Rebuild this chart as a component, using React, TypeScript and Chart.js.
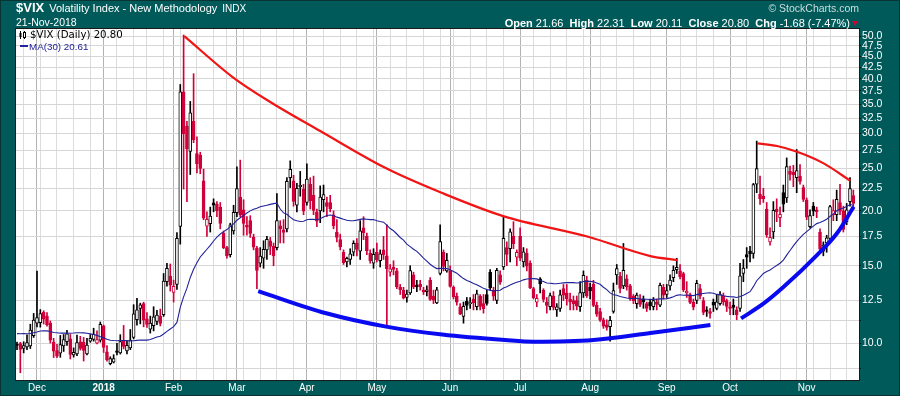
import React, { useEffect, useRef } from 'react';
import { Chart, registerables } from 'chart.js';

Chart.register(...registerables);

// ---------- data ----------
const DATES: string[] = [
  '2017-11-22','2017-11-24','2017-11-27','2017-11-28','2017-11-29','2017-11-30',
  '2017-12-01','2017-12-04','2017-12-05','2017-12-06','2017-12-07','2017-12-08','2017-12-11','2017-12-12','2017-12-13','2017-12-14',
  '2017-12-15','2017-12-18','2017-12-19','2017-12-20','2017-12-21','2017-12-22','2017-12-26','2017-12-27','2017-12-28','2017-12-29',
  '2018-01-02','2018-01-03','2018-01-04','2018-01-05','2018-01-08','2018-01-09','2018-01-10','2018-01-11','2018-01-12','2018-01-16',
  '2018-01-17','2018-01-18','2018-01-19','2018-01-22','2018-01-23','2018-01-24','2018-01-25','2018-01-26','2018-01-29','2018-01-30','2018-01-31',
  '2018-02-01','2018-02-02','2018-02-05','2018-02-06','2018-02-07','2018-02-08','2018-02-09','2018-02-12','2018-02-13','2018-02-14',
  '2018-02-15','2018-02-16','2018-02-20','2018-02-21','2018-02-22','2018-02-23','2018-02-26','2018-02-27','2018-02-28',
  '2018-03-01','2018-03-02','2018-03-05','2018-03-06','2018-03-07','2018-03-08','2018-03-09','2018-03-12','2018-03-13','2018-03-14',
  '2018-03-15','2018-03-16','2018-03-19','2018-03-20','2018-03-21','2018-03-22','2018-03-23','2018-03-26','2018-03-27','2018-03-28','2018-03-29',
  '2018-04-02','2018-04-03','2018-04-04','2018-04-05','2018-04-06','2018-04-09','2018-04-10','2018-04-11','2018-04-12','2018-04-13',
  '2018-04-16','2018-04-17','2018-04-18','2018-04-19','2018-04-20','2018-04-23','2018-04-24','2018-04-25','2018-04-26','2018-04-27','2018-04-30',
  '2018-05-01','2018-05-02','2018-05-03','2018-05-04','2018-05-07','2018-05-08','2018-05-09','2018-05-10','2018-05-11','2018-05-14',
  '2018-05-15','2018-05-16','2018-05-17','2018-05-18','2018-05-21','2018-05-22','2018-05-23','2018-05-24','2018-05-25','2018-05-29','2018-05-30','2018-05-31',
  '2018-06-01','2018-06-04','2018-06-05','2018-06-06','2018-06-07','2018-06-08','2018-06-11','2018-06-12','2018-06-13','2018-06-14',
  '2018-06-15','2018-06-18','2018-06-19','2018-06-20','2018-06-21','2018-06-22','2018-06-25','2018-06-26','2018-06-27','2018-06-28','2018-06-29',
  '2018-07-02','2018-07-03','2018-07-05','2018-07-06','2018-07-09','2018-07-10','2018-07-11','2018-07-12','2018-07-13','2018-07-16',
  '2018-07-17','2018-07-18','2018-07-19','2018-07-20','2018-07-23','2018-07-24','2018-07-25','2018-07-26','2018-07-27','2018-07-30','2018-07-31',
  '2018-08-01','2018-08-02','2018-08-03','2018-08-06','2018-08-07','2018-08-08','2018-08-09','2018-08-10','2018-08-13','2018-08-14',
  '2018-08-15','2018-08-16','2018-08-17','2018-08-20','2018-08-21','2018-08-22','2018-08-23','2018-08-24','2018-08-27','2018-08-28',
  '2018-08-29','2018-08-30','2018-08-31',
  '2018-09-04','2018-09-05','2018-09-06','2018-09-07','2018-09-10','2018-09-11','2018-09-12','2018-09-13','2018-09-14','2018-09-17',
  '2018-09-18','2018-09-19','2018-09-20','2018-09-21','2018-09-24','2018-09-25','2018-09-26','2018-09-27','2018-09-28',
  '2018-10-01','2018-10-02','2018-10-03','2018-10-04','2018-10-05','2018-10-08','2018-10-09','2018-10-10','2018-10-11','2018-10-12',
  '2018-10-15','2018-10-16','2018-10-17','2018-10-18','2018-10-19','2018-10-22','2018-10-23','2018-10-24','2018-10-25','2018-10-26',
  '2018-10-29','2018-10-30','2018-10-31',
  '2018-11-01','2018-11-02','2018-11-05','2018-11-06','2018-11-07','2018-11-08','2018-11-09','2018-11-12','2018-11-13','2018-11-14',
  '2018-11-15','2018-11-16','2018-11-19','2018-11-20','2018-11-21',
];

const OPEN: number[] = [
  9.94, 9.98, 9.72, 9.80, 9.85, 10.40,
  11.10, 11.13, 11.75, 11.52, 11.11, 10.05, 9.61, 9.48, 9.85, 10.08, 10.23, 9.40, 9.45, 10.07, 10.05, 9.45, 10.10, 10.20, 10.00, 10.15,
  10.95, 9.55, 8.98, 9.05, 9.60, 9.50, 10.15, 9.60, 9.75, 10.30, 11.30, 12.00, 12.30, 11.35, 10.75, 10.95, 11.20, 11.50, 11.60, 13.80, 14.20,
  13.05, 13.60, 18.44, 37.32, 31.20, 27.30, 32.00, 27.00, 26.80, 23.40, 18.45, 18.70, 20.85, 20.70, 20.40, 17.80, 16.50, 15.90, 18.00,
  19.80, 21.50, 20.10, 18.55, 19.00, 17.40, 16.45, 15.20, 15.60, 16.30, 17.10, 16.60, 16.50, 18.50, 18.10, 18.20, 23.80, 23.40, 20.60, 22.70, 22.40,
  20.90, 23.00, 21.70, 19.90, 20.00, 21.20, 20.90, 20.90, 19.60, 17.90, 17.20, 16.10, 15.30, 15.50, 16.10, 16.90, 16.20, 18.30, 17.50, 16.00, 15.20,
  16.10, 15.40, 16.30, 15.80, 14.50, 14.90, 14.60, 13.40, 13.20, 12.70, 13.00, 14.30, 13.55, 13.60, 13.20, 13.10, 13.90, 12.80, 12.35, 14.40, 16.10, 14.60,
  14.60, 13.40, 12.80, 12.10, 11.50, 12.45, 12.30, 12.60, 12.10, 12.80, 12.30, 12.90, 14.50, 13.20, 12.50, 14.30, 14.90, 16.50, 16.40, 17.50, 15.70,
  17.50, 15.30, 16.00, 15.20, 13.30, 12.40, 14.00, 13.20, 12.40, 12.10, 12.80, 11.90, 12.00, 13.30, 13.00, 12.60, 12.50, 12.50, 12.10, 13.00, 13.90,
  13.40, 13.60, 12.20, 11.80, 11.30, 11.00, 10.90, 11.80, 14.30, 14.20, 13.50, 14.00, 13.50, 12.80, 12.30, 12.60, 12.60, 12.30, 12.40, 12.10, 12.40, 12.20, 13.40,
  12.90, 13.50, 14.10, 14.70, 14.60, 14.40, 13.00, 12.90, 12.40, 12.50, 13.30, 12.50, 11.90, 11.80, 12.40, 12.00, 12.30, 12.80, 12.50,
  12.10, 12.20, 11.90, 12.00, 14.40, 15.90, 16.20, 16.00, 23.00, 21.80, 21.60, 20.20, 17.00, 17.90, 20.20, 19.30, 22.00, 21.40, 24.60, 24.50, 23.80, 24.00, 22.60,
  21.20, 18.40, 20.50, 20.10, 17.90, 16.20, 16.90, 17.30, 19.60, 19.60, 20.90, 20.00, 18.90, 21.00, 21.66,
];

const HIGH: number[] = [
  10.05, 10.04, 10.07, 10.44, 11.04, 11.68,
  14.58, 11.92, 11.85, 11.73, 11.23, 10.25, 9.94, 10.41, 10.46, 10.69, 10.46, 9.75, 10.43, 10.36, 10.30, 10.25, 10.46, 10.81, 10.66, 11.17,
  10.99, 9.87, 9.31, 9.41, 9.99, 10.45, 10.97, 10.10, 10.74, 12.23, 12.65, 12.33, 12.39, 11.74, 11.52, 12.10, 11.88, 11.95, 14.40, 15.20, 15.14,
  13.91, 17.84, 38.80, 50.30, 32.00, 35.50, 41.06, 29.50, 27.20, 24.90, 19.90, 20.40, 21.30, 21.00, 20.90, 18.00, 16.60, 18.75, 20.60,
  25.20, 26.10, 21.20, 19.40, 19.50, 17.70, 16.60, 16.50, 17.10, 17.50, 17.40, 16.90, 21.90, 19.00, 19.10, 23.80, 26.00, 24.10, 23.10, 24.60, 23.00,
  25.60, 23.80, 24.00, 20.20, 22.80, 22.90, 21.50, 21.70, 20.00, 19.10, 17.70, 16.30, 15.70, 16.40, 17.10, 17.30, 19.00, 19.40, 17.80, 16.30, 16.40,
  16.90, 16.30, 17.50, 18.60, 15.10, 15.40, 14.80, 13.60, 13.40, 13.20, 15.00, 14.50, 13.90, 13.90, 13.40, 13.50, 14.10, 13.20, 13.40, 18.60, 16.30, 16.00,
  15.00, 13.50, 13.00, 12.30, 12.40, 12.70, 12.70, 12.90, 13.20, 12.90, 12.90, 13.20, 14.70, 13.40, 14.80, 14.60, 19.40, 17.00, 18.20, 18.90, 16.30,
  18.30, 16.50, 16.40, 15.40, 13.40, 12.90, 14.10, 13.30, 12.70, 13.00, 13.10, 12.30, 13.20, 13.60, 13.60, 13.00, 12.80, 12.80, 13.80, 14.60, 14.20,
  13.70, 13.90, 12.40, 12.00, 11.40, 11.30, 11.50, 13.70, 15.10, 14.50, 16.86, 14.30, 13.60, 12.90, 13.00, 12.90, 12.80, 12.40, 12.60, 12.70, 12.60, 13.70, 13.60,
  13.60, 14.30, 15.00, 15.60, 15.10, 14.50, 13.80, 13.00, 12.60, 13.90, 13.60, 12.70, 12.10, 12.00, 12.60, 12.90, 13.10, 13.00, 12.60,
  12.40, 12.60, 12.10, 15.20, 15.50, 16.50, 16.60, 23.10, 28.84, 24.00, 22.50, 20.90, 18.30, 21.00, 21.30, 20.40, 22.90, 26.40, 25.30, 25.40, 27.60, 25.50, 22.90,
  21.40, 20.10, 20.90, 20.40, 18.20, 17.00, 17.60, 20.60, 21.20, 22.30, 23.00, 20.50, 20.80, 23.80, 22.31,
];

const LOW: number[] = [
  9.66, 8.56, 9.50, 9.66, 9.72, 10.30,
  10.88, 10.87, 11.05, 10.92, 10.00, 9.27, 9.26, 9.28, 9.57, 9.88, 9.20, 9.29, 9.36, 9.64, 9.10, 9.40, 10.04, 10.10, 9.95, 10.05,
  9.52, 9.10, 8.92, 9.01, 9.40, 9.44, 9.70, 9.45, 9.66, 10.22, 10.98, 11.06, 10.89, 10.86, 10.54, 10.66, 11.01, 10.94, 11.50, 13.47, 13.13,
  12.40, 13.25, 16.80, 22.42, 21.00, 24.20, 28.60, 24.40, 24.30, 19.10, 17.50, 17.90, 19.90, 19.40, 18.20, 16.40, 15.60, 15.70, 17.70,
  19.40, 19.40, 17.60, 17.60, 17.40, 16.30, 13.30, 14.90, 14.80, 15.50, 15.90, 15.00, 16.30, 16.90, 16.90, 17.90, 22.60, 20.50, 19.90, 21.60, 19.60,
  20.60, 20.20, 19.60, 18.40, 18.80, 19.90, 19.40, 19.90, 18.20, 17.00, 16.30, 15.10, 14.90, 15.10, 15.80, 15.80, 15.50, 17.20, 15.90, 15.20, 14.80,
  15.30, 14.90, 15.50, 10.90, 14.20, 14.30, 13.30, 12.90, 12.60, 12.40, 12.90, 13.30, 13.10, 13.20, 12.90, 12.80, 12.50, 12.30, 12.30, 14.30, 14.60, 14.50,
  13.40, 12.60, 12.20, 11.60, 11.10, 11.90, 12.00, 11.90, 11.90, 11.90, 11.70, 12.20, 13.20, 12.50, 12.30, 13.60, 14.70, 15.00, 15.30, 16.40, 15.00,
  15.40, 14.90, 14.60, 13.30, 12.60, 12.10, 13.00, 12.40, 11.70, 11.90, 11.90, 11.50, 11.80, 12.50, 12.20, 11.90, 11.90, 11.90, 11.80, 12.70, 12.70,
  12.60, 12.10, 11.50, 11.20, 10.80, 10.70, 10.10, 11.70, 13.60, 13.00, 13.30, 13.20, 12.50, 12.30, 12.00, 12.10, 12.00, 11.80, 11.90, 11.90, 11.90, 12.10, 12.60,
  12.70, 13.20, 13.80, 14.40, 14.00, 13.10, 12.70, 12.30, 11.90, 12.30, 12.60, 11.60, 11.50, 11.40, 11.80, 11.90, 12.20, 12.20, 11.80,
  11.60, 11.60, 11.30, 11.80, 13.80, 14.80, 15.30, 15.60, 22.00, 20.70, 20.90, 17.40, 16.70, 17.30, 18.90, 18.40, 19.90, 20.90, 23.50, 22.70, 22.00, 23.00, 21.00,
  19.10, 18.30, 19.50, 19.30, 16.20, 15.80, 16.10, 17.00, 19.00, 19.00, 19.60, 17.90, 18.60, 20.50, 20.11,
];

const CLOSE: number[] = [
  9.88, 9.67, 9.87, 10.03, 10.70, 11.28,
  11.43, 11.68, 11.33, 11.02, 10.16, 9.58, 9.34, 9.92, 10.18, 10.49, 9.42, 9.53, 10.03, 9.72, 9.62, 9.90, 10.25, 10.47, 10.18, 11.04,
  9.77, 9.15, 9.22, 9.22, 9.52, 10.08, 9.82, 9.88, 10.16, 11.66, 11.91, 12.22, 11.27, 11.03, 11.10, 11.47, 11.58, 11.08, 13.84, 14.79, 13.54,
  13.47, 17.31, 37.32, 29.98, 27.73, 33.46, 29.06, 25.61, 24.97, 19.26, 19.13, 19.46, 20.60, 20.02, 18.72, 16.49, 15.80, 18.59, 19.85,
  22.47, 19.59, 18.73, 18.36, 17.76, 16.54, 14.64, 15.78, 16.35, 17.23, 16.59, 15.80, 19.02, 18.20, 17.86, 23.34, 24.87, 21.03, 22.50, 22.87, 19.97,
  23.62, 21.10, 20.06, 18.94, 21.49, 21.77, 20.47, 20.24, 18.49, 17.41, 16.56, 15.25, 15.60, 15.96, 16.88, 16.34, 18.02, 17.84, 16.24, 15.41, 15.93,
  15.49, 15.97, 15.90, 14.77, 14.75, 14.71, 13.42, 13.23, 12.65, 12.93, 14.63, 13.42, 13.43, 13.42, 13.08, 13.22, 12.58, 12.53, 13.22, 17.02, 14.94, 15.43,
  13.46, 12.74, 12.40, 11.64, 12.13, 12.18, 12.35, 12.34, 12.94, 12.12, 11.98, 12.31, 13.35, 12.79, 14.64, 13.77, 17.33, 15.92, 17.91, 16.85, 16.09,
  15.60, 16.14, 14.97, 13.37, 12.69, 12.64, 13.63, 12.58, 12.18, 12.83, 12.06, 12.10, 12.87, 12.86, 12.62, 12.41, 12.29, 12.14, 13.03, 14.26, 12.83,
  13.15, 12.19, 11.64, 11.27, 10.93, 10.85, 11.27, 13.16, 14.78, 13.31, 14.64, 13.45, 12.64, 12.49, 12.86, 12.25, 12.41, 11.99, 12.16, 12.50, 12.25, 13.53, 12.86,
  13.16, 13.91, 14.65, 14.88, 14.16, 13.22, 13.14, 12.37, 12.07, 13.68, 12.79, 11.75, 11.80, 11.68, 12.20, 12.42, 12.89, 12.41, 12.12,
  12.00, 12.05, 11.61, 14.22, 14.82, 15.69, 15.95, 22.96, 24.98, 21.31, 21.30, 17.62, 17.40, 20.06, 19.89, 19.64, 20.71, 25.23, 24.22, 24.16, 24.70, 23.35, 21.23,
  19.34, 19.51, 19.96, 19.91, 16.36, 16.72, 17.36, 20.45, 20.02, 21.25, 19.98, 18.14, 20.10, 22.48, 20.80,
];

// closes of the 29 sessions before the first candle (needed for the 30-day average)
const PRIOR_CLOSE: number[] = [
  9.91, 9.61, 10.31, 10.31, 10.07, 10.05, 9.97, 11.07, 11.16, 11.23, 11.30, 9.80, 10.50, 10.18, 10.20,
  9.93, 9.14, 9.40, 9.89, 9.78, 10.50, 11.29, 11.50, 11.59, 13.13, 11.76, 11.43, 10.65, 9.73,
];

const MA_PERIOD = 30;
const Y_LABEL_TICKS: number[] = [10, 12.5, 15, 17.5, 20, 22.5, 25, 27.5, 30, 32.5, 35, 37.5, 40, 42.5, 45, 47.5, 50];
const Y_EXTRA_GRID: number[] = [8.75, 11.25];
const MONTH_LABELS: string[] = ['2018', 'Feb', 'Mar', 'Apr', 'May', 'Jun', 'Jul', 'Aug', 'Sep', 'Oct', 'Nov', 'Dec'];

// hand-drawn trend arcs (session index, VIX level)
const RED_ARC1_X: number[] = [50.2, 64.6, 76.0, 91.0, 110.8, 127.6, 145.9, 171.4, 190.1, 198.2];
const RED_ARC1_Y: number[] = [50.0, 40.4, 35.4, 30.4, 25.0, 21.96, 19.46, 17.46, 15.78, 15.45];
const RED_ARC2_X: number[] = [222.1, 228.1, 234.1, 242.1, 250.1];
const RED_ARC2_Y: number[] = [28.5, 28.1, 27.27, 25.66, 23.42];
const BLUE_ARC1_X: number[] = [72.4, 92.8, 110.8, 127.6, 146.5, 155.0, 173.0, 190.1, 208.1];
const BLUE_ARC1_Y: number[] = [13.13, 11.69, 10.90, 10.46, 10.16, 10.07, 10.16, 10.54, 10.99];
const BLUE_ARC2_X: number[] = [217.3, 224.1, 230.1, 240.1, 246.1, 251.1];
const BLUE_ARC2_Y: number[] = [11.38, 12.31, 13.43, 15.86, 17.78, 20.44];

// ---------- styling ----------
const FONT = '"Liberation Sans", Arial, sans-serif';
const TEAL = '#005a5a';
const RED = '#d0003a';
const NAVY = '#22229a';

export default function App() {
  const ref = useRef<HTMLCanvasElement>(null);

  useEffect(() => {
    if (!ref.current) return;
    const n = CLOSE.length;
    const prev = (i: number) => (i === 0 ? PRIOR_CLOSE[PRIOR_CLOSE.length - 1] : CLOSE[i - 1]);
    const color = CLOSE.map((c, i) => (c >= prev(i) ? '#000000' : RED));
    const bodyFill = CLOSE.map((c, i) => (c > OPEN[i] ? '#ffffff' : color[i]));

    const allClose = [...PRIOR_CLOSE, ...CLOSE];
    const ma = CLOSE.map((_, i) => {
      let s = 0;
      for (let k = 0; k < MA_PERIOD; k++) s += allClose[i + PRIOR_CLOSE.length - k];
      return { x: i, y: s / MA_PERIOD };
    });

    // x ticks: first session of each week, darker line at first session of each month
    const d = DATES.map((s) => new Date(s + 'T00:00:00Z'));
    const monthLabel = new Map<number, string>();
    const tickIdx: number[] = [];
    for (let i = 1; i < n; i++) {
      const newWeek = d[i].getUTCDay() < d[i - 1].getUTCDay() || d[i].getTime() - d[i - 1].getTime() >= 7 * 864e5;
      const newMonth = d[i].getUTCMonth() !== d[i - 1].getUTCMonth();
      if (newMonth) monthLabel.set(i, MONTH_LABELS[d[i].getUTCMonth()]);
      if (newWeek || newMonth) tickIdx.push(i);
    }

    const arc = (xs: number[], ys: number[]) => xs.map((x, i) => ({ x, y: ys[i] }));
    const lineBase = { type: 'line' as const, pointRadius: 0, fill: false, cubicInterpolationMode: 'monotone' as const };

    const bgPlugin = {
      id: 'bg',
      beforeDraw(chart: any) {
        const { ctx, chartArea: a, width, height } = chart;
        ctx.save();
        ctx.fillStyle = TEAL;
        ctx.fillRect(0, 0, width, height);
        ctx.fillStyle = '#ffffff';
        ctx.fillRect(a.left, a.top, a.right - a.left, a.bottom - a.top);
        ctx.restore();
      },
      afterDraw(chart: any) {
        const { ctx, chartArea: a, width, height } = chart;
        ctx.save();
        ctx.strokeStyle = '#1a1a1a';
        ctx.lineWidth = 1;
        ctx.strokeRect(a.left - 0.5, a.top - 0.5, a.right - a.left + 1, a.bottom - a.top + 1);
        ctx.strokeStyle = '#083434';
        ctx.strokeRect(0.5, 0.5, width - 1, height - 1);
        ctx.restore();
      },
    };

    const chart = new Chart(ref.current, {
      type: 'bar',
      data: {
        datasets: [
          { ...lineBase, data: arc(BLUE_ARC1_X, BLUE_ARC1_Y), borderColor: '#0a0af0', borderWidth: 4 } as any,
          { ...lineBase, data: arc(BLUE_ARC2_X, BLUE_ARC2_Y), borderColor: '#0a0af0', borderWidth: 4 } as any,
          { ...lineBase, data: arc(RED_ARC1_X, RED_ARC1_Y), borderColor: '#f01414', borderWidth: 2.2 } as any,
          { ...lineBase, data: arc(RED_ARC2_X, RED_ARC2_Y), borderColor: '#f01414', borderWidth: 2.2 } as any,
          { type: 'line', data: ma, borderColor: NAVY, borderWidth: 1.1, pointRadius: 0, tension: 0, fill: false } as any,
          {
            type: 'bar',
            data: CLOSE.map((c, i) => ({ x: i, y: [OPEN[i], c] })),
            backgroundColor: bodyFill,
            borderColor: color,
            borderWidth: 1,
            borderSkipped: false,
            barThickness: 3,
            grouped: false,
            minBarLength: 1,
          } as any,
          {
            type: 'bar',
            data: CLOSE.map((_, i) => ({ x: i, y: [LOW[i], HIGH[i]] })),
            backgroundColor: color,
            borderWidth: 0,
            barThickness: 1,
            grouped: false,
          } as any,
        ],
      },
      options: {
        animation: false,
        responsive: false,
        devicePixelRatio: 1,
        events: [],
        layout: { padding: { left: 16, top: 29, right: 0, bottom: 0 } },
        plugins: { legend: { display: false }, tooltip: { enabled: false } },
        scales: {
          x: {
            type: 'linear',
            min: -0.3,
            max: 252.7,
            offset: false,
            afterBuildTicks: (s: any) => {
              s.ticks = tickIdx.map((v) => ({ value: v, major: monthLabel.has(v) }));
            },
            afterFit: (s: any) => {
              s.height = 16;
            },
            ticks: {
              autoSkip: false,
              maxRotation: 0,
              minRotation: 0,
              padding: 2,
              color: '#ffffff',
              font: (c: any) => ({
                family: FONT,
                size: 10,
                weight: c.tick && c.tick.label === '2018' ? 'bold' : 'normal',
              }),
              callback: (v: any) => monthLabel.get(v as number) ?? '',
            },
            grid: {
              offset: false,
              drawTicks: false,
              color: (c: any) => (c.tick && c.tick.major ? '#b2b2b2' : '#dcdcdc'),
              lineWidth: 1,
            },
            border: { display: false },
          } as any,
          y: {
            type: 'logarithmic',
            position: 'right',
            min: 8.24,
            max: 51.9,
            afterBuildTicks: (s: any) => {
              s.ticks = [...Y_EXTRA_GRID, ...Y_LABEL_TICKS].sort((a, b) => a - b).map((v) => ({ value: v }));
            },
            afterFit: (s: any) => {
              s.width = 41;
            },
            ticks: {
              autoSkip: false,
              padding: 1,
              color: '#ffffff',
              font: { family: FONT, size: 10.5 },
              callback: (v: any) => (Y_LABEL_TICKS.includes(v as number) ? (v as number).toFixed(1) : ''),
            },
            grid: {
              color: '#d6d6d6',
              lineWidth: 1,
              drawTicks: true,
              tickLength: 2,
              tickColor: '#101010',
            },
            border: { display: false },
          } as any,
        },
      },
      plugins: [bgPlugin],
    } as any);

    return () => chart.destroy();
  }, []);

  const white = '#ffffff';
  return (
    <div
      style={{
        position: 'fixed',
        left: 0,
        top: 0,
        width: 900,
        height: 396,
        overflow: 'hidden',
        fontFamily: FONT,
        fontSize: 13,
        background: TEAL,
      }}
    >
      <canvas ref={ref} width={900} height={396} style={{ position: 'absolute', left: 0, top: 0, width: 900, height: 396 }} />

      {/* title */}
      <div style={{ position: 'absolute', left: 16, top: 1, lineHeight: '14px', color: white, whiteSpace: 'nowrap' }}>
        <span style={{ fontSize: 13, fontWeight: 'bold' }}>$VIX</span>
        <span style={{ fontSize: 11, marginLeft: 5 }}>Volatility Index - New Methodology</span>
        <span style={{ fontSize: 10, marginLeft: 5 }}>INDX</span>
      </div>
      <div style={{ position: 'absolute', left: 16, top: 16, fontSize: 10.5, lineHeight: '12px', color: white, whiteSpace: 'nowrap' }}>
        21-Nov-2018
      </div>

      {/* right header */}
      <div style={{ position: 'absolute', right: 41, top: 2, fontSize: 10.5, lineHeight: '12px', color: '#cfdede', whiteSpace: 'nowrap' }}>
        © StockCharts.com
      </div>
      <div style={{ position: 'absolute', right: 50, top: 17, fontSize: 11, lineHeight: '12px', color: white, whiteSpace: 'pre' }}>
        <b>Open</b> 21.66  <b>High</b> 22.31  <b>Low</b> 20.11  <b>Close</b> 20.80  <b>Chg</b> -1.68 (-7.47%)
      </div>
      <div
        style={{
          position: 'absolute',
          left: 852,
          top: 21,
          width: 0,
          height: 0,
          borderLeft: '3.5px solid transparent',
          borderRight: '3.5px solid transparent',
          borderTop: '5px solid ' + RED,
        }}
      />

      {/* legend inside plot */}
      <svg style={{ position: 'absolute', left: 19, top: 31 }} width={9} height={8}>
        <line x1={1.5} y1={0} x2={1.5} y2={8} stroke="#000" />
        <rect x={0.5} y={2} width={2} height={4} fill="#000" />
        <line x1={5.5} y1={0} x2={5.5} y2={8} stroke="#000" />
        <rect x={4.5} y={1.5} width={2} height={5} fill="#fff" stroke="#000" strokeWidth={1} />
      </svg>
      <div
        style={{
          position: 'absolute',
          left: 30,
          top: 29,
          fontFamily: '"DejaVu Sans", sans-serif',
          fontSize: 10.2,
          lineHeight: '11px',
          color: '#000',
          whiteSpace: 'nowrap',
        }}
      >
        $VIX (Daily) 20.80
      </div>
      <div style={{ position: 'absolute', left: 20, top: 45, width: 8, height: 2, background: NAVY }} />
      <div style={{ position: 'absolute', left: 29, top: 41, fontSize: 9.8, lineHeight: '11px', color: NAVY, whiteSpace: 'nowrap' }}>
        MA(30) 20.61
      </div>
    </div>
  );
}
